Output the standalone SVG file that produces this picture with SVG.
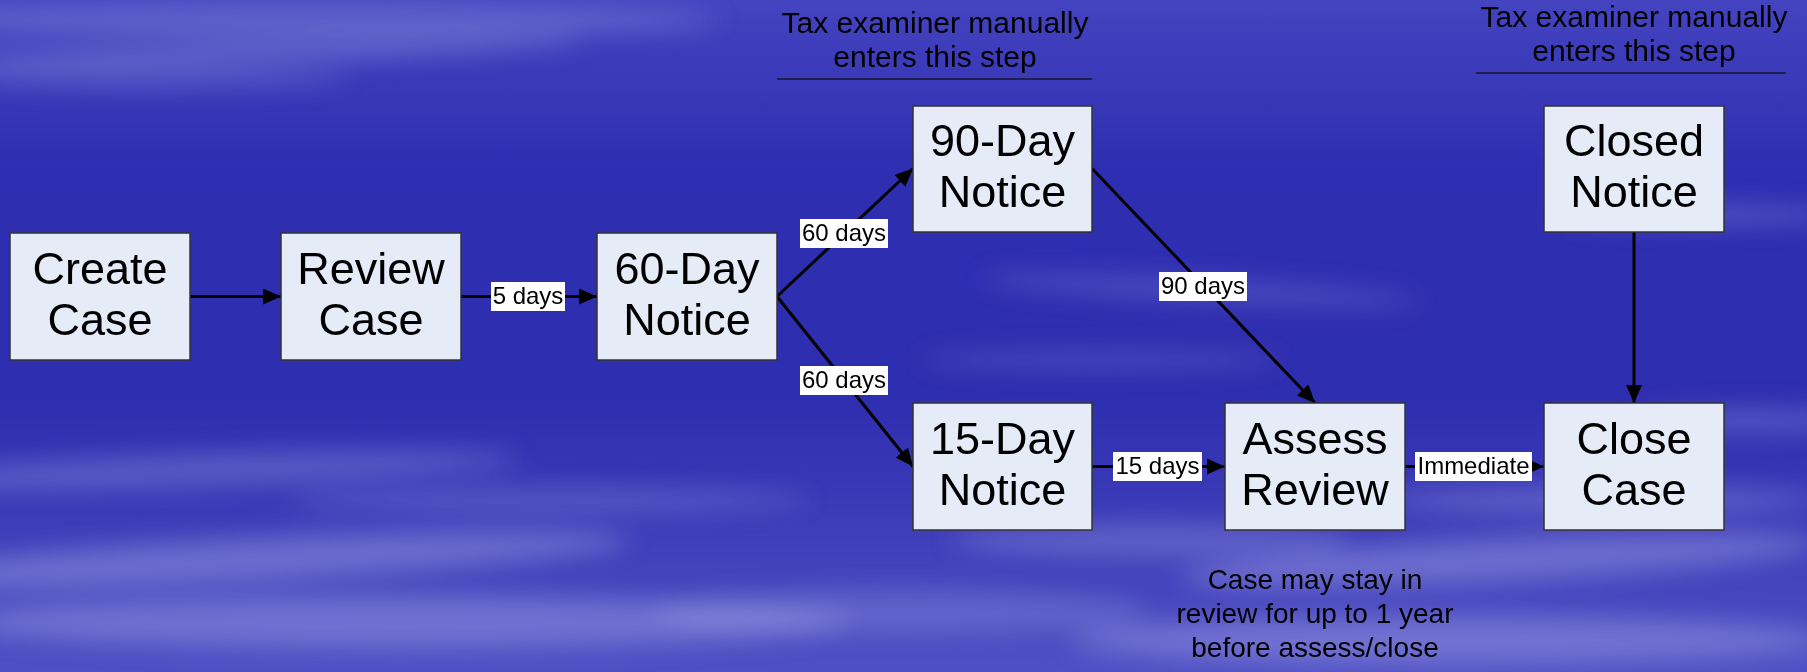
<svg xmlns="http://www.w3.org/2000/svg" width="1807" height="672" viewBox="0 0 1807 672">
<defs>
<linearGradient id="bg" x1="0" y1="0" x2="0" y2="1">
<stop offset="0" stop-color="#4444c0"/>
<stop offset="0.25" stop-color="#2e2eb2"/>
<stop offset="0.6" stop-color="#2e2eb0"/>
<stop offset="1" stop-color="#5050c4"/>
</linearGradient>
<filter id="blur" x="-20%" y="-150%" width="140%" height="400%"><feGaussianBlur stdDeviation="12"/></filter>
<marker id="ah" viewBox="0 0 18 16" refX="18" refY="8" markerWidth="18" markerHeight="16" markerUnits="userSpaceOnUse" orient="auto">
<path d="M0,0 L18,8 L0,16 Z" fill="#000"/>
</marker>
<style>
.box{fill:#e5ebf7;stroke:#333;stroke-width:1.5}
.big{font-family:"Liberation Sans",Arial,sans-serif;font-size:45px;fill:#000;text-anchor:middle}
.lbl{font-family:"Liberation Sans",Arial,sans-serif;font-size:24px;fill:#000;text-anchor:middle}
.lblbg{fill:#fff}
.note{font-family:"Liberation Sans",Arial,sans-serif;font-size:30px;fill:#000;text-anchor:middle}
.note2{font-family:"Liberation Sans",Arial,sans-serif;font-size:28px;fill:#000;text-anchor:middle}
.con{stroke:#000;stroke-width:3;fill:none;marker-end:url(#ah)}
.wisp{fill:#b0b0ec}
</style>
</defs>
<g id="background">
<rect x="0" y="0" width="1807" height="672" fill="url(#bg)"/>
<g filter="url(#blur)">
<ellipse class="wisp" cx="300" cy="20" rx="420" ry="16" opacity="0.3"/>
<ellipse class="wisp" cx="250" cy="52" rx="330" ry="12" opacity="0.3" transform="rotate(-2 250 52)"/>
<ellipse class="wisp" cx="150" cy="78" rx="200" ry="10" opacity="0.25"/>
<ellipse class="wisp" cx="1700" cy="215" rx="140" ry="10" opacity="0.3"/>
<ellipse class="wisp" cx="1200" cy="290" rx="220" ry="12" opacity="0.22" transform="rotate(3 1200 290)"/>
<ellipse class="wisp" cx="1100" cy="360" rx="180" ry="10" opacity="0.2"/>
<ellipse class="wisp" cx="200" cy="470" rx="320" ry="16" opacity="0.3" transform="rotate(-2 200 470)"/>
<ellipse class="wisp" cx="550" cy="500" rx="260" ry="12" opacity="0.25"/>
<ellipse class="wisp" cx="250" cy="560" rx="380" ry="22" opacity="0.38" transform="rotate(-3 250 560)"/>
<ellipse class="wisp" cx="400" cy="622" rx="450" ry="26" opacity="0.38"/>
<ellipse class="wisp" cx="900" cy="612" rx="250" ry="22" opacity="0.25"/>
<ellipse class="wisp" cx="1150" cy="540" rx="200" ry="16" opacity="0.3"/>
<ellipse class="wisp" cx="1500" cy="560" rx="320" ry="22" opacity="0.38" transform="rotate(-3 1500 560)"/>
<ellipse class="wisp" cx="1600" cy="500" rx="220" ry="14" opacity="0.3"/>
<ellipse class="wisp" cx="1450" cy="640" rx="380" ry="24" opacity="0.38"/>
<ellipse class="wisp" cx="1750" cy="420" rx="120" ry="12" opacity="0.3"/>
</g>
</g>
<g id="annotations">
<text class="note" x="935" y="33">Tax examiner manually</text>
<text class="note" x="935" y="67">enters this step</text>
<line x1="777" y1="79" x2="1092" y2="79" stroke="#1e1e50" stroke-width="2"/>
<text class="note" x="1634" y="27">Tax examiner manually</text>
<text class="note" x="1634" y="61">enters this step</text>
<line x1="1476" y1="73" x2="1786" y2="73" stroke="#1e1e50" stroke-width="2"/>
<text class="note2" x="1315" y="589">Case may stay in</text>
<text class="note2" x="1315" y="623">review for up to 1 year</text>
<text class="note2" x="1315" y="657">before assess/close</text>
</g>
<g id="connectors">
<line class="con" x1="190" y1="296.5" x2="281" y2="296.5"/>
<line class="con" x1="461" y1="296.5" x2="597" y2="296.5"/>
<line class="con" x1="777" y1="296.5" x2="913" y2="168.5"/>
<line class="con" x1="777" y1="296.5" x2="913" y2="466.5"/>
<line class="con" x1="1092" y1="168.5" x2="1315" y2="403"/>
<line class="con" x1="1092" y1="466.5" x2="1225" y2="466.5"/>
<line class="con" x1="1405" y1="466.5" x2="1544" y2="466.5"/>
<line class="con" x1="1634" y1="232" x2="1634" y2="403"/>
<rect class="lblbg" x="491" y="282" width="74" height="29"/>
<text class="lbl" x="528" y="304">5 days</text>
<rect class="lblbg" x="800" y="219" width="88" height="29"/>
<text class="lbl" x="844" y="241">60 days</text>
<rect class="lblbg" x="800" y="366" width="88" height="29"/>
<text class="lbl" x="844" y="388">60 days</text>
<rect class="lblbg" x="1159" y="272" width="88" height="29"/>
<text class="lbl" x="1203" y="294">90 days</text>
<rect class="lblbg" x="1113" y="452" width="89" height="29"/>
<text class="lbl" x="1157.5" y="474">15 days</text>
<rect class="lblbg" x="1415" y="452" width="117" height="29"/>
<text class="lbl" x="1473.5" y="474">Immediate</text>
</g>
<g id="create-case">
<rect class="box" x="10" y="233" width="180" height="127"/>
<text class="big" x="100" y="284">Create</text>
<text class="big" x="100" y="335">Case</text>
</g>
<g id="review-case">
<rect class="box" x="281" y="233" width="180" height="127"/>
<text class="big" x="371" y="284">Review</text>
<text class="big" x="371" y="335">Case</text>
</g>
<g id="notice-60">
<rect class="box" x="597" y="233" width="180" height="127"/>
<text class="big" x="687" y="284">60-Day</text>
<text class="big" x="687" y="335">Notice</text>
</g>
<g id="notice-90">
<rect class="box" x="913" y="106" width="179" height="126"/>
<text class="big" x="1002.5" y="156">90-Day</text>
<text class="big" x="1002.5" y="207">Notice</text>
</g>
<g id="notice-15">
<rect class="box" x="913" y="403" width="179" height="127"/>
<text class="big" x="1002.5" y="454">15-Day</text>
<text class="big" x="1002.5" y="505">Notice</text>
</g>
<g id="assess-review">
<rect class="box" x="1225" y="403" width="180" height="127"/>
<text class="big" x="1315" y="454">Assess</text>
<text class="big" x="1315" y="505">Review</text>
</g>
<g id="closed-notice">
<rect class="box" x="1544" y="106" width="180" height="126"/>
<text class="big" x="1634" y="156">Closed</text>
<text class="big" x="1634" y="207">Notice</text>
</g>
<g id="close-case">
<rect class="box" x="1544" y="403" width="180" height="127"/>
<text class="big" x="1634" y="454">Close</text>
<text class="big" x="1634" y="505">Case</text>
</g>
</svg>
